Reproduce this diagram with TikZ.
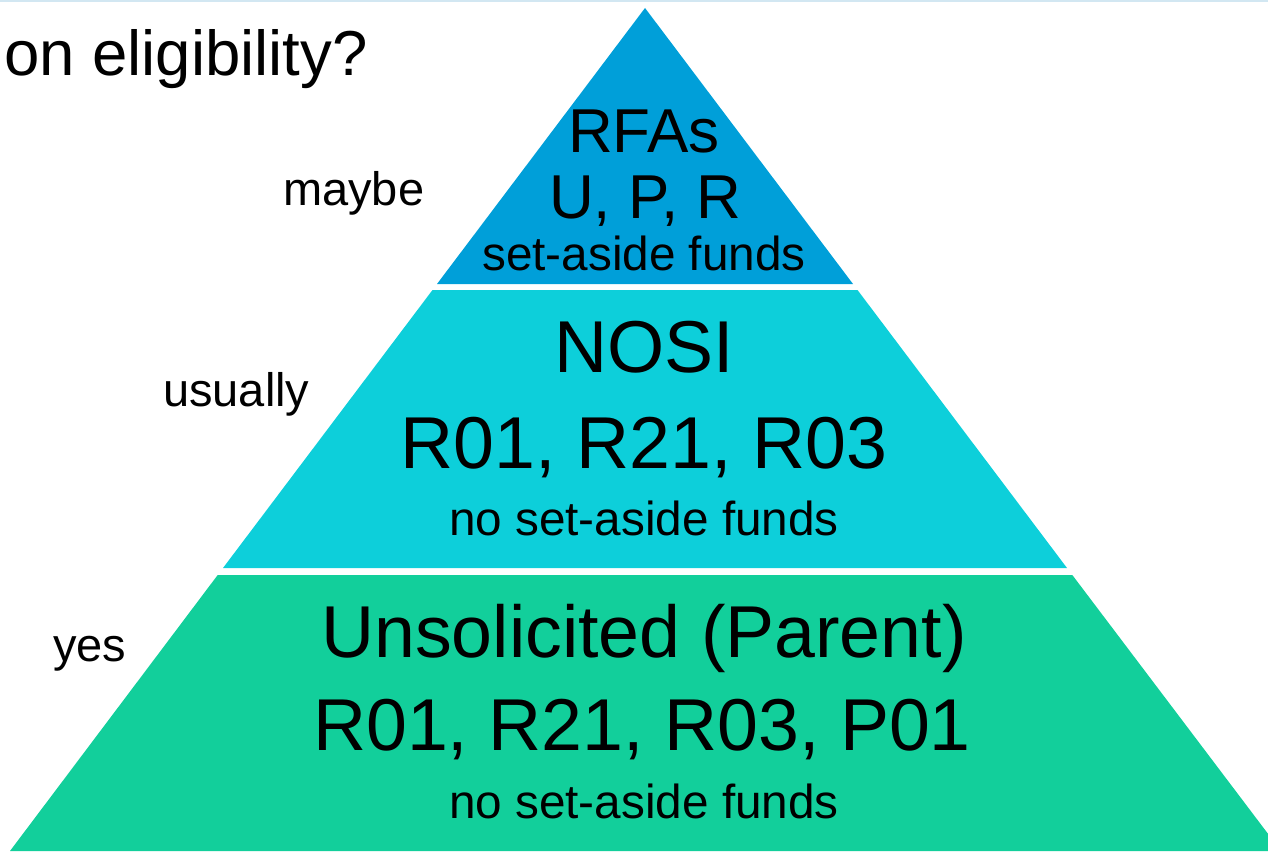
\documentclass[tikz,border=0pt]{standalone}
\usepackage{fontspec}
\setmainfont{Liberation Sans}
\definecolor{topband}{HTML}{009FD9}
\definecolor{midband}{HTML}{0DCFDA}
\definecolor{lowband}{HTML}{12CF9B}
\definecolor{rulecol}{HTML}{D2E7F2}
\tikzset{
  txt/.style={inner sep=0pt, anchor=base, text=black},
  big/.style={txt, font=\fontsize{73.5}{73.5}\selectfont},
  mid/.style={txt, font=\fontsize{62}{62}\selectfont},
  small/.style={txt, font=\fontsize{47.7}{47.7}\selectfont},
  side/.style={txt, font=\fontsize{47}{47}\selectfont},
}
\begin{document}
\begin{tikzpicture}[x=1pt,y=-1pt]
\useasboundingbox (0,0) rectangle (1268,851);
\begin{scope}
\clip (0,0) rectangle (1268,851);
\fill[rulecol] (0,0) rectangle (1268,2.5);
% bands
\fill[topband] (645,8) -- (437,284) -- (853,284) -- cycle;
\fill[midband] (432.5,290) -- (857.5,290) -- (1067,568) -- (223,568) -- cycle;
\fill[lowband] (217.7,575) -- (1072.3,575) -- (1281,851) -- (10,851) -- cycle;
\end{scope}
% title fragment
\node[txt, anchor=base west, font=\fontsize{63.5}{63.5}\selectfont] (title) at (4,75) {on eligibility?};
% top band
\node[mid] (rfa) at (644,152) {RFAs};
\node[mid] (upr) at (645,218) {U, P, R};
\node[small] (sa1) at (644,270) {set-aside funds};
% middle band
\node[big] (nosi) at (644,372) {NOSI};
\node[big] (r1) at (644,468) {R01, R21, R03};
\node[small] (sa2) at (644,535) {no set-aside funds};
% bottom band
\node[big] (uns) at (644,657) {Unsolicited (Parent)};
\node[big] (r2) at (642,750) {R01, R21, R03, P01};
\node[small] (sa3) at (644,818) {no set-aside funds};
% side labels
\node[side, anchor=base west] (maybe) at (283,205) {maybe};
\node[side, anchor=base west] (usually) at (163,406) {usually};
\node[side, anchor=base west] (yes) at (53,661) {yes};
\end{tikzpicture}
\end{document}
